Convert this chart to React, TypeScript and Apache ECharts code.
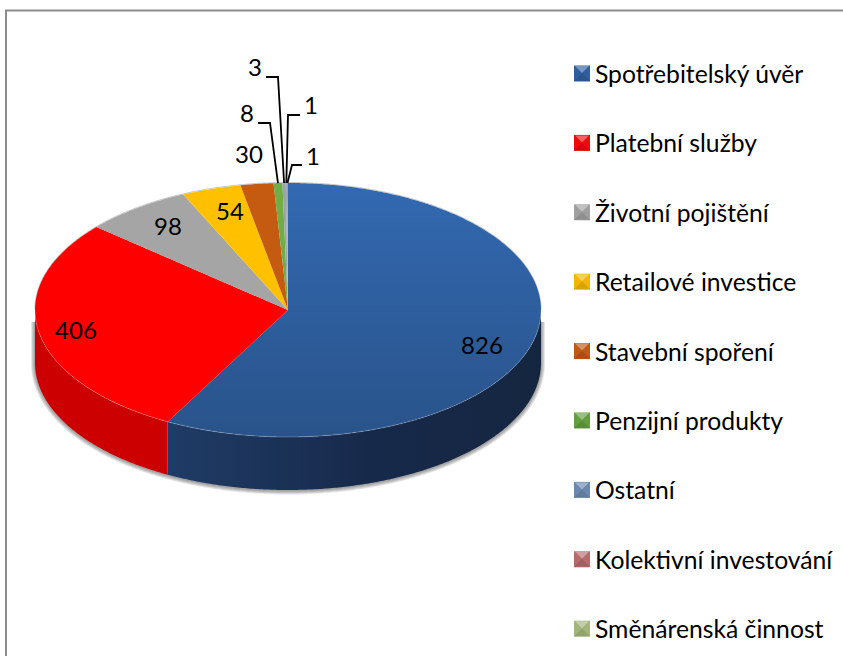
import React, { useEffect, useRef } from "react";
import * as echarts from "echarts";

const categories = [
  "Spotřebitelský úvěr",
  "Platební služby",
  "Životní pojištění",
  "Retailové investice",
  "Stavební spoření",
  "Penzijní produkty",
  "Ostatní",
  "Kolektivní investování",
  "Směnárenská činnost",
];
const values = [826, 406, 98, 54, 30, 8, 3, 1, 1];

const legendColors = ["#2f5f9e", "#ee0a0a", "#a0a0a0", "#f2b705", "#bd5a14", "#639f3f", "#6b89b0", "#b56a6c", "#a2b67c"];
const flatTops = ["", "#fe0000", "#a5a5a5", "#ffc000", "#c55a11", "#70ad47", "#9ba3ad", "#9ba3ad", "#9ba3ad"];
const labelPositions = [
  [482, 344], [76, 329], [168, 225], [230, 210], [249, 153], [247, 112], [255, 66], [311, 104], [313, 155],
];
// start x, start y, elbow x of each leader line; its far end follows the slice's mid angle
const leaders: (number[] | null)[] = [
  null, null, null, null, null, [258, 123, 270], [266, 77, 278], [300, 115, 288], [302, 165, 292],
];
const shadowWidths = [8, 6, 4, 2];

const FONT = "Lato, 'Open Sans', sans-serif";
const CX = 288, CY = 310, RX = 253, RY = 127, DEPTH = 53;
const total = values.reduce((a, b) => a + b, 0);

const pt = (deg: number, dy = 0) => {
  const r = (deg * Math.PI) / 180;
  return [CX + RX * Math.sin(r), CY + dy - RY * Math.cos(r)];
};
const arc = (a: number, b: number, dy = 0) => {
  const out: number[][] = [];
  const n = Math.max(2, Math.ceil(Math.abs(b - a) / 0.5));
  for (let i = 0; i <= n; i++) out.push(pt(a + ((b - a) * i) / n, dy));
  return out;
};

const grad = (x2: number, y2: number, c0: string, c1: string) =>
  new echarts.graphic.LinearGradient(0, 0, x2, y2, [
    { offset: 0, color: c0 },
    { offset: 1, color: c1 },
  ]);

const renderSlice = (idx: number) => (_p: any, api: any) => {
  const value = api.value(0) as number;
  let before = 0;
  for (let i = 0; i < idx; i++) before += values[i];
  const a = (before / total) * 360;
  const b = ((before + value) / total) * 360;
  const mid = (a + b) / 2;
  const children: any[] = [];

  if (idx === 0) {
    shadowWidths.forEach((w) => {
      children.push({
        type: "polyline",
        z2: 0,
        shape: { points: [pt(270, 12), ...arc(270, 90, DEPTH + 0.5), pt(90, 12)] },
        style: { fill: "none", stroke: "rgba(0,0,0,0.1)", lineWidth: w },
      });
    });
    children.push({
      type: "polyline",
      z2: 0,
      shape: { points: arc(270, 450, -0.5) },
      style: { fill: "none", stroke: "rgba(0,0,0,0.22)", lineWidth: 1 },
    });
  }

  const lo = Math.max(a, 90);
  const hi = Math.min(b, 270);
  if (hi > lo) {
    children.push({
      type: "polygon",
      z2: 1,
      shape: { points: [...arc(lo, hi), ...arc(hi, lo, DEPTH)] },
      style: {
        fill: idx === 0
          ? new echarts.graphic.LinearGradient(0, 0, 1, 0, [
              { offset: 0, color: "#1f3c66" },
              { offset: 0.55, color: "#17294a" },
              { offset: 1, color: "#14263f" },
            ])
          : "#cc0000",
      },
    });
  }

  children.push({
    type: "polygon",
    z2: 2,
    shape: { points: [[CX, CY], ...arc(a, b)] },
    style: { fill: idx === 0 ? grad(0, 1, "#3269b1", "#29538a") : flatTops[idx] },
  });

  if (hi > lo) {
    children.push({
      type: "polyline",
      z2: 3,
      shape: { points: arc(lo, hi) },
      style: { fill: "none", stroke: "rgba(255,255,255,0.22)", lineWidth: 1 },
    });
  }

  const leader = leaders[idx];
  if (leader) {
    const end = pt(mid);
    children.push({
      type: "polyline",
      z2: 9,
      shape: { points: [[leader[0], leader[1]], [leader[2], leader[1]], end] },
      style: { fill: "none", stroke: "#000", lineWidth: 1.8 },
    });
  }

  const [lx, ly] = labelPositions[idx];
  children.push({
    type: "text",
    z2: 10,
    style: { text: String(value), x: lx, y: ly, fill: "#000", font: `24px ${FONT}`, align: "center", verticalAlign: "middle" },
  });

  return { type: "group", children };
};

const LEGEND_LEFT = 574, LEGEND_TOP = 61, ICON = 16, STEP = 69.4, ICON_Y0 = 65;

export default function App() {
  const ref = useRef<HTMLDivElement>(null);
  useEffect(() => {
    const chart = echarts.init(ref.current!, null, { renderer: "svg" });
    chart.setOption({
      animation: false,
      backgroundColor: "#fff",
      legend: {
        orient: "vertical",
        left: LEGEND_LEFT,
        top: LEGEND_TOP,
        padding: 0,
        icon: "rect",
        itemWidth: ICON,
        itemHeight: ICON,
        itemGap: STEP - 25,
        selectedMode: false,
        textStyle: { fontFamily: FONT, fontSize: 24.7, color: "#000", padding: [0, 0, 0, 0], lineHeight: 24, height: 24 },
        data: categories,
      },
      graphic: [
        {
          type: "polyline",
          silent: true,
          shape: { points: [[6, 656], [6, 10.5], [843, 10.5]] },
          style: { fill: "none", stroke: "#8c8c8c", lineWidth: 2 },
        },
        ...categories.map((_c, i) => ({
          type: "polygon",
          silent: true,
          z: 100,
          shape: {
            points: [
              [LEGEND_LEFT + 1, ICON_Y0 + i * STEP + 1],
              [LEGEND_LEFT + ICON - 1, ICON_Y0 + i * STEP + 1],
              [LEGEND_LEFT + ICON / 2, ICON_Y0 + i * STEP + ICON / 2],
            ],
          },
          style: { fill: "rgba(255,255,255,0.35)" },
        })),
        ...categories.map((_c, i) => ({
          type: "polygon",
          silent: true,
          z: 100,
          shape: {
            points: [
              [LEGEND_LEFT, ICON_Y0 + i * STEP + ICON],
              [LEGEND_LEFT + ICON, ICON_Y0 + i * STEP + ICON],
              [LEGEND_LEFT + ICON / 2, ICON_Y0 + i * STEP + ICON / 2],
            ],
          },
          style: { fill: "rgba(0,0,0,0.1)" },
        })),
      ],
      series: categories.map((name, i) => ({
        type: "custom",
        name,
        coordinateSystem: "none",
        silent: true,
        clip: false,
        itemStyle: { color: legendColors[i] },
        data: [[values[i]]],
        renderItem: renderSlice(i),
      })),
    });
    return () => chart.dispose();
  }, []);
  return <div ref={ref} style={{ position: "fixed", left: 0, top: 0, width: 843, height: 656 }} />;
}
